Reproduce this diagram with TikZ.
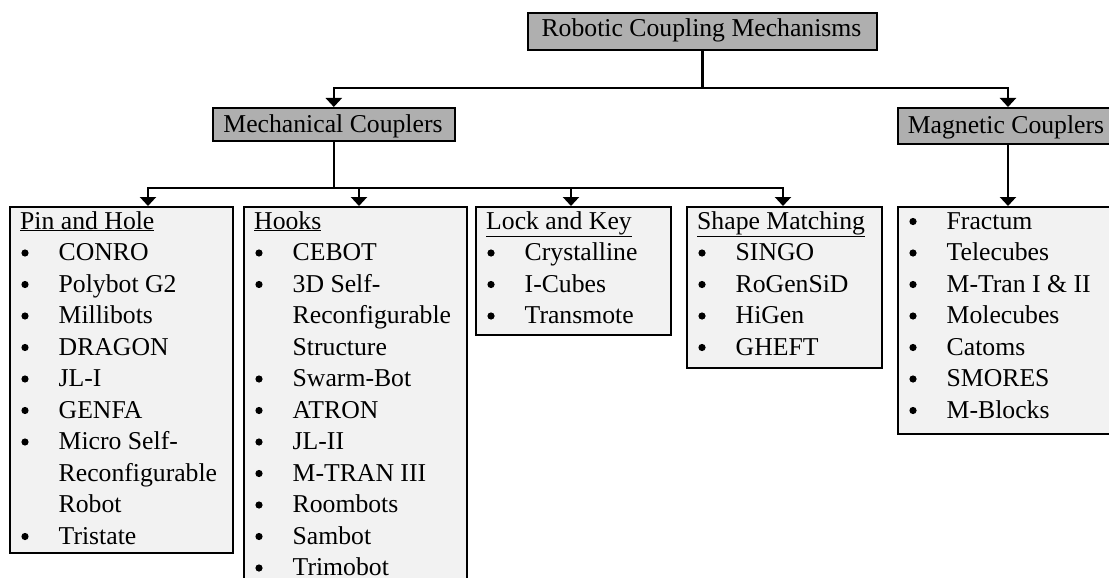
\documentclass[tikz,border=0pt]{standalone}
\usepackage{fontspec}
\setmainfont{Liberation Serif}
\usetikzlibrary{arrows.meta}

\definecolor{hdrgray}{HTML}{AFAFAF}
\definecolor{listgray}{HTML}{F2F2F2}

\tikzset{
  hdrbox/.style={draw=black, line width=1.6pt, fill=hdrgray, inner sep=0pt, anchor=north west},
  listbox/.style={draw=black, line width=1.6pt, fill=listgray, inner sep=0pt, anchor=north west},
  hdrtxt/.style={inner sep=0pt, anchor=base, font=\fontsize{25.7}{31.5}\selectfont},
  itemtxt/.style={inner sep=0pt, anchor=base west, font=\fontsize{25.7}{31.5}\selectfont},
  link/.style={line width=2.6pt, line cap=rect},
  linkarrow/.style={line width=2.6pt, -{Triangle[width=16pt,length=9pt]}},
}

% One box of entries: #1 name prefix, #2 left edge of the box, #3 kind/text pairs
% (kind 2 = underlined heading, 1 = bulleted entry, 0 = continuation line)
\newcommand{\entryrows}[3]{%
  \foreach \kind/\txt [count=\k from 0] in {#3} {
    \ifnum\kind=2\relax
      \node[itemtxt] (#1-\k) at (#2+11, 229+\k*31.5) {\underline{\txt}};
    \else
      \node[itemtxt] (#1-\k) at (#2+49.5, 229+\k*31.5) {\txt};
      \ifnum\kind=1\relax
        \fill (#2+16, 229+\k*31.5-7.5) circle (3.6pt);
      \fi
    \fi
  }}

\begin{document}
\begin{tikzpicture}[x=1pt, y=-1pt]
  \useasboundingbox (0,0) rectangle (1109,578);
  \clip (0,0) rectangle (1109,578);

  % category boxes
  \node[hdrbox, minimum width=349pt, minimum height=37pt] (top) at (527,12) {};
  \node[hdrtxt] (top-t) at (701.5,37) {Robotic Coupling Mechanisms};

  \node[hdrbox, minimum width=242pt, minimum height=33pt] (mech) at (212,107) {};
  \node[hdrtxt] (mech-t) at (333,132) {Mechanical Couplers};

  \node[hdrbox, minimum width=222pt, minimum height=36pt] (mag) at (897,107) {};
  \node[hdrtxt] (mag-t) at (1006,133) {Magnetic Couplers};

  % list boxes
  \node[listbox, minimum width=223pt, minimum height=346pt] (pin) at (9,206) {};
  \node[listbox, minimum width=223pt, minimum height=400pt] (hooks) at (243,206) {};
  \node[listbox, minimum width=195pt, minimum height=128pt] (lock) at (475,206) {};
  \node[listbox, minimum width=195pt, minimum height=161pt] (shape) at (686,206) {};
  \node[listbox, minimum width=222pt, minimum height=227pt] (maglist) at (897,206) {};

  \entryrows{pin}{9}{2/Pin and Hole, 1/CONRO, 1/Polybot G2, 1/Millibots, 1/DRAGON,
    1/JL-I, 1/GENFA, 1/Micro Self-, 0/Reconfigurable, 0/Robot, 1/Tristate}
  \entryrows{hk}{243}{2/Hooks, 1/CEBOT, 1/3D Self-, 0/Reconfigurable, 0/Structure,
    1/Swarm-Bot, 1/ATRON, 1/JL-II, 1/M-TRAN III, 1/Roombots, 1/Sambot, 1/Trimobot}
  \entryrows{lk}{475}{2/Lock and Key, 1/Crystalline, 1/I-Cubes, 1/Transmote}
  \entryrows{sm}{686}{2/Shape Matching, 1/SINGO, 1/RoGenSiD, 1/HiGen, 1/GHEFT}
  \entryrows{mg}{897}{1/Fractum, 1/Telecubes, 1/M-Tran I \& II, 1/Molecubes,
    1/Catoms, 1/SMORES, 1/M-Blocks}

  % connectors: two buses with branch arrows
  \coordinate (busA) at (0,88);
  \coordinate (busB) at (0,188);
  \coordinate (magin) at (1008,107);

  \draw[link] (top.south) -- (top.south |- busA);
  \draw[link] (mech.north |- busA) -- (magin |- busA);
  \draw[linkarrow] (magin |- busA) -- (magin);
  \draw[linkarrow] (mech.north |- busA) -- (mech.north);

  \draw[link] (mech.south) -- (mech.south |- busB);
  \draw[link] (148,188) -- (783,188);
  \draw[linkarrow] (148,188) -- (148,206);
  \draw[linkarrow] (359,188) -- (359,206);
  \draw[linkarrow] (571,188) -- (571,206);
  \draw[linkarrow] (783,188) -- (783,206);

  \draw[linkarrow] (magin |- mag.south) -- (magin |- maglist.north);
\end{tikzpicture}
\end{document}
